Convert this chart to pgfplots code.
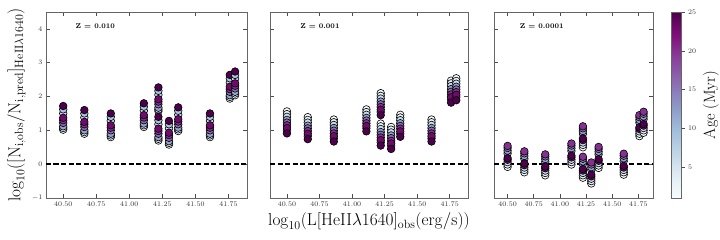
\documentclass[border=0pt]{standalone}
\usepackage{pgfplots}
\usepackage{pgfplotstable}
\pgfplotsset{compat=1.18}

% one row per model point: luminosity, age (Myr), and log ratio for Z=0.010, 0.001, 0.0001
\pgfplotstableread{
x      age  za     zb     zc
40.50  1    1.02   1.56   -0.08
40.50  3    1.07   1.48   -0.01
40.50  6    1.50   1.40   0.06
40.50  9    1.62   1.00   0.32
40.50  12   1.12   1.31   0.40
40.50  16   1.22   1.23   0.48
40.50  20   1.30   1.15   0.54
40.50  23   1.37   1.07   0.13
40.50  25   1.72   0.91   0.18
40.66  1    0.90   1.39   -0.24
40.66  3    0.95   1.31   -0.17
40.66  6    1.38   1.23   -0.10
40.66  9    1.50   0.83   0.16
40.66  12   1.00   1.14   0.24
40.66  16   1.10   1.06   0.32
40.66  20   1.18   0.98   0.38
40.66  23   1.25   0.90   -0.03
40.66  25   1.60   0.74   0.02
40.86  1    0.80   1.32   -0.33
40.86  3    0.85   1.24   -0.26
40.86  6    1.28   1.16   -0.19
40.86  9    1.40   0.76   0.07
40.86  12   0.90   1.07   0.15
40.86  16   1.00   0.99   0.23
40.86  20   1.08   0.91   0.29
40.86  23   1.15   0.83   -0.12
40.86  25   1.50   0.67   -0.07
41.11  1    1.10   1.62   -0.01
41.11  3    1.15   1.54   0.06
41.11  6    1.58   1.46   0.13
41.11  9    1.70   1.06   0.39
41.11  12   1.20   1.37   0.47
41.11  16   1.30   1.29   0.55
41.11  20   1.38   1.21   0.61
41.11  23   1.45   1.13   0.20
41.11  25   1.80   0.97   0.25
41.22  1    1.57   2.10   0.50
41.22  3    1.62   2.02   0.57
41.22  6    2.05   1.94   0.64
41.22  9    2.17   1.54   0.90
41.22  12   1.67   1.85   0.98
41.22  16   1.77   1.77   1.06
41.22  20   1.85   1.69   1.12
41.22  23   1.92   1.61   0.71
41.22  25   2.27   1.45   0.76
41.22  1    0.70   1.20   -0.40
41.22  3    0.75   1.12   -0.33
41.22  6    1.18   1.04   -0.26
41.22  9    1.30   0.64   0.00
41.22  12   0.80   0.95   0.08
41.22  16   0.90   0.87   0.16
41.22  20   0.98   0.79   0.22
41.22  23   1.05   0.71   -0.19
41.22  25   1.40   0.55   -0.14
41.30  1    0.58   1.10   -0.57
41.30  3    0.63   1.02   -0.50
41.30  6    1.06   0.94   -0.43
41.30  9    1.18   0.54   -0.17
41.30  12   0.68   0.85   -0.09
41.30  16   0.78   0.77   -0.01
41.30  20   0.86   0.69   0.05
41.30  23   0.93   0.61   -0.36
41.30  25   1.28   0.45   -0.31
41.37  1    0.98   1.46   -0.11
41.37  3    1.03   1.38   -0.04
41.37  6    1.46   1.30   0.03
41.37  9    1.58   0.90   0.29
41.37  12   1.08   1.21   0.37
41.37  16   1.18   1.13   0.45
41.37  20   1.26   1.05   0.51
41.37  23   1.33   0.97   0.10
41.37  25   1.68   0.81   0.15
41.61  1    0.80   1.32   -0.31
41.61  3    0.85   1.24   -0.24
41.61  6    1.28   1.16   -0.17
41.61  9    1.40   0.76   0.09
41.61  12   0.90   1.07   0.17
41.61  16   1.00   0.99   0.25
41.61  20   1.08   0.91   0.31
41.61  23   1.15   0.83   -0.10
41.61  25   1.50   0.67   -0.05
41.76  1    1.94   2.47   0.83
41.76  3    1.99   2.39   0.90
41.76  6    2.42   2.31   0.97
41.76  9    2.54   1.91   1.23
41.76  12   2.04   2.22   1.31
41.76  16   2.14   2.14   1.39
41.76  20   2.22   2.06   1.45
41.76  23   2.29   1.98   1.04
41.76  25   2.64   1.82   1.09
41.80  1    2.04   2.54   0.93
41.80  3    2.09   2.46   1.00
41.80  6    2.52   2.38   1.07
41.80  9    2.64   1.98   1.33
41.80  12   2.14   2.29   1.41
41.80  16   2.24   2.21   1.49
41.80  20   2.32   2.13   1.55
41.80  23   2.39   2.05   1.14
41.80  25   2.74   1.89   1.19
}\models

\pgfplotsset{
  colormap={bupu}{rgb255=(247,252,253) rgb255=(224,236,244) rgb255=(191,211,230)
    rgb255=(158,188,218) rgb255=(140,150,198) rgb255=(140,107,177)
    rgb255=(136,65,157) rgb255=(129,15,124) rgb255=(77,0,75)},
  panel/.style={
    scale only axis, height=186pt,
    xmin=40.37, xmax=41.89, ymin=-1, ymax=4.5,
    xtick={40.5,40.75,41,41.25,41.5,41.75}, ytick={-1,0,1,2,3,4},
    xtick pos=both, ytick pos=both, tick align=inside,
    major tick length=4pt,
    axis line style={black!60, line width=0.8pt},
    every tick/.style={black!70, line width=0.6pt},
    tick label style={font=\fontsize{7}{8}\selectfont, black!80},
    xticklabel style={/pgf/number format/.cd, fixed, fixed zerofill, precision=2},
    label style={font=\fontsize{16.5}{18}\selectfont},
    colormap name=bupu, point meta min=1, point meta max=25,
    clip=true,
  },
  pts/.style={scatter, only marks, mark=*, mark size=3.8pt, scatter src=explicit,
    scatter/use mapped color={draw=black, fill=mapped color},
    mark options={line width=0.6pt}},
  zero/.style={black, line width=1.5pt, dash pattern=on 5pt off 2.5pt},
}

\begin{document}
\begin{tikzpicture}[x=1pt,y=1pt]
\useasboundingbox (0,0) rectangle (720,240);

\begin{axis}[panel, width=201pt, at={(46pt,42pt)}, anchor=south west,
  ylabel={$\log_{10}([\mathrm{N_{i,obs}/N_{i,pred}}]_{\mathrm{HeII\lambda1640}})$}]
\addplot[pts] table[x=x, y=za, meta=age] {\models};
\addplot[zero] coordinates {(40.37,0) (41.89,0)};
\node[anchor=west, font=\fontsize{7}{8}\selectfont\bfseries] at (rel axis cs:0.13,0.925) {Z = 0.010};
\end{axis}

\begin{axis}[panel, width=198pt, at={(270pt,42pt)}, anchor=south west,
  yticklabels={},
  xlabel={$\log_{10}(\mathrm{L[HeII\lambda1640]_{obs}(erg/s)})$}]
\addplot[pts] table[x=x, y=zb, meta=age] {\models};
\addplot[zero] coordinates {(40.37,0) (41.89,0)};
\node[anchor=west, font=\fontsize{7}{8}\selectfont\bfseries] at (rel axis cs:0.135,0.925) {Z = 0.001};
\end{axis}

\begin{axis}[panel, width=159pt, at={(494pt,42pt)}, anchor=south west,
  yticklabels={},
  colorbar,
  colorbar style={
    at={(parent axis.north east)}, anchor=north west, xshift=10pt,
    scale only axis, width=10pt, height=186pt,
    ytick={5,10,15,20,25}, ytick pos=right, yticklabel pos=right,
    tick align=outside, major tick length=3pt,
    axis line style={black!60, line width=0.6pt},
    every tick/.style={black!70},
    yticklabel style={font=\fontsize{7}{8}\selectfont, black!80},
    ylabel={Age (Myr)},
    ylabel style={font=\fontsize{16}{18}\selectfont},
  }]
\addplot[pts] table[x=x, y=zc, meta=age] {\models};
\addplot[zero] coordinates {(40.37,0) (41.89,0)};
\node[anchor=west, font=\fontsize{7}{8}\selectfont\bfseries] at (rel axis cs:0.14,0.925) {Z = 0.0001};
\end{axis}
\end{tikzpicture}
\end{document}
